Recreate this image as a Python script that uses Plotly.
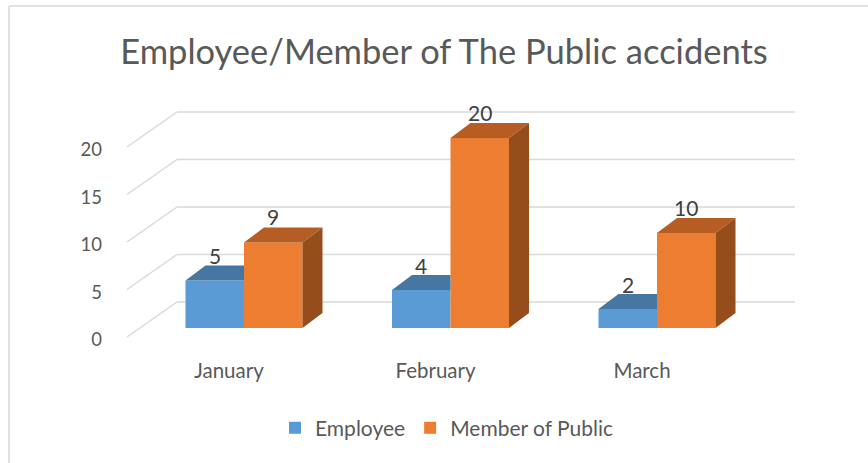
import plotly.graph_objects as go

# ---------------- data ----------------
categories = ["January", "February", "March"]
employee = [5, 4, 2]
public = [9, 20, 10]
y_ticks = [0, 5, 10, 15, 20]
series_names = ["Employee", "Member of Public"]
title_text = "Employee/Member of The Public accidents"

# ---------------- style ----------------
W, H = 868, 463
L, R, T, B = 100, 800, 100, 356          # plot area in pixels
X0_PX, X_UNIT = 244, 206.5               # pixel of x=0, pixels per category
Y0_PX, Y_UNIT = 328, 9.5                 # pixel of y=0, pixels per unit
xr = [(L - X0_PX) / X_UNIT, (R - X0_PX) / X_UNIT]
yr = [(Y0_PX - B) / Y_UNIT, (Y0_PX - T) / Y_UNIT]

BAR_W = 58.5 / X_UNIT
DX = 20 / X_UNIT          # 3-D depth offset (x)
DY = 15 / Y_UNIT          # 3-D depth offset (y)
BACK = 26 / Y_UNIT        # back wall offset
FRONT = -9 / Y_UNIT       # front floor edge offset
XB_L = (177 - X0_PX) / X_UNIT
XB_R = (795 - X0_PX) / X_UNIT
XF_L = (127 - X0_PX) / X_UNIT

BLUE, BLUE_TOP, BLUE_SIDE = "#5B9BD5", "#4676A2", "#3A6287"
ORANGE, ORANGE_TOP, ORANGE_SIDE = "#ED7D31", "#B55D22", "#964D1C"
GRID = "#D9D9D9"
TXT = "#595959"
FONT = "Lato, 'Open Sans', sans-serif"


def px_x(p):
    return (p - L) / (R - L)


def px_y(p):
    return (B - p) / (B - T)


fig = go.Figure()
xs = list(range(len(categories)))

fig.add_trace(go.Bar(x=xs, y=employee, name=series_names[0], width=BAR_W, offset=-BAR_W,
                     marker=dict(color=BLUE, line=dict(width=0)), hoverinfo="skip"))
fig.add_trace(go.Bar(x=xs, y=public, name=series_names[1], width=BAR_W, offset=0,
                     marker=dict(color=ORANGE, line=dict(width=0)), hoverinfo="skip"))


def face(px, py, color):
    fig.add_trace(go.Scatter(x=px + [px[0]], y=py + [py[0]], mode="lines", fill="toself",
                             fillcolor=color, line=dict(width=0), hoverinfo="skip",
                             showlegend=False))


# employee top faces (clipped where hidden by the adjacent taller bar)
for i, (e, p) in enumerate(zip(employee, public)):
    x0, x1 = i - BAR_W, i
    if p >= e:
        face([x0, x1, x1, x0 + DX], [e, e, e + DY, e + DY], BLUE_TOP)
    else:
        face([x0, x1, x1 + DX, x0 + DX], [e, e, e + DY, e + DY], BLUE_TOP)
        face([x1, x1, x1 + DX, x1 + DX], [0, e, e + DY, DY], BLUE_SIDE)

# public top and side faces
for i, p in enumerate(public):
    x0, x1 = i, i + BAR_W
    face([x0, x1, x1 + DX, x0 + DX], [p, p, p + DY, p + DY], ORANGE_TOP)
    face([x1, x1, x1 + DX, x1 + DX], [0, p, p + DY, DY], ORANGE_SIDE)

# gridlines (back wall + left wall diagonals)
shapes = []
for v in y_ticks:
    shapes.append(dict(type="line", xref="x", yref="y", x0=XB_L, y0=v + BACK, x1=XB_R, y1=v + BACK,
                       line=dict(color=GRID, width=1.5), layer="below"))
    shapes.append(dict(type="line", xref="x", yref="y", x0=XF_L, y0=v + FRONT, x1=XB_L, y1=v + BACK,
                       line=dict(color=GRID, width=1.5), layer="below"))
# chart border (partially visible)
shapes.append(dict(type="line", xref="paper", yref="paper", x0=px_x(9), y0=px_y(470), x1=px_x(9), y1=px_y(6),
                   line=dict(color=GRID, width=1.5)))
shapes.append(dict(type="line", xref="paper", yref="paper", x0=px_x(9), y0=px_y(6), x1=px_x(875), y1=px_y(6),
                   line=dict(color=GRID, width=1.5)))

# data labels
annotations = []
for i, (e, p) in enumerate(zip(employee, public)):
    annotations.append(dict(x=i - BAR_W / 2, y=e, text=str(e), showarrow=False, yshift=25,
                            font=dict(size=21, color="#404040", family=FONT)))
    annotations.append(dict(x=i + BAR_W / 2, y=p, text=str(p), showarrow=False, yshift=26,
                            font=dict(size=21, color="#404040", family=FONT)))

fig.update_layout(
    width=W, height=H,
    margin=dict(l=L, r=W - R, t=T, b=H - B, autoexpand=False),
    paper_bgcolor="white", plot_bgcolor="white",
    barmode="overlay",
    font=dict(family=FONT, color=TXT),
    title=dict(text=title_text, x=444 / W, xanchor="center", y=1 - 52 / H, yanchor="middle",
               xref="container", yref="container", font=dict(size=34.5, color=TXT, family=FONT)),
    xaxis=dict(range=xr, tickvals=xs, ticktext=categories, showgrid=False, zeroline=False,
               showline=False, ticks="", ticklabelshift=-15, tickfont=dict(size=20.5, color=TXT)),
    yaxis=dict(range=yr, tickvals=y_ticks, showgrid=False, zeroline=False, showline=False,
               ticks="", ticklabelshift=12, ticklabelstandoff=-3, tickfont=dict(size=18.5, color=TXT)),
    legend=dict(orientation="h", x=px_x(447), xanchor="center", y=px_y(428), yanchor="middle",
                font=dict(size=21, color=TXT), traceorder="normal"),
    shapes=shapes,
    annotations=annotations,
    showlegend=True,
)

fig.write_html("out.html", config={"displayModeBar": False},
               post_script="document.body.style.margin='0';")
